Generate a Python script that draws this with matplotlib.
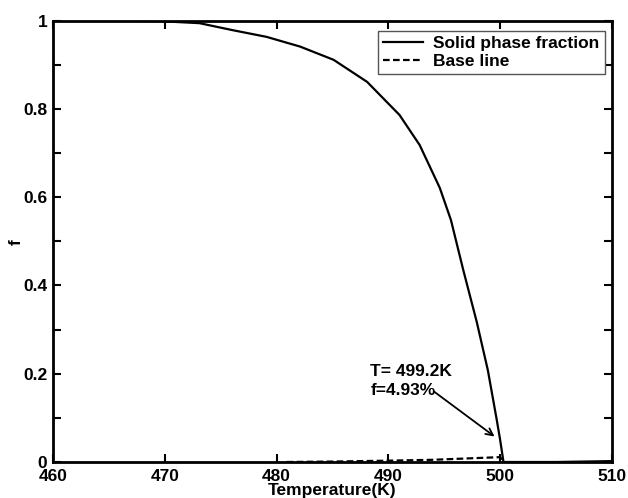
import numpy as np
import matplotlib.pyplot as plt

# solid phase fraction
temp = [460, 466, 470, 473.1, 476.1, 479.1, 482.1, 485.1, 488.1, 491.0,
        492.8, 494.6, 495.6, 496.7, 497.9, 498.9, 499.7, 500.0, 500.3,
        505, 510]
frac = [1.0, 1.0, 0.998, 0.994, 0.978, 0.963, 0.941, 0.911, 0.861, 0.786,
        0.718, 0.621, 0.548, 0.435, 0.318, 0.208, 0.095, 0.05, 0.0,
        0.0, 0.002]

# base line
base_t = [480.9, 485, 490, 494, 497, 499, 500, 500.3]
base_f = [0.0, 0.001, 0.003, 0.005, 0.008, 0.010, 0.011, 0.0]

xticks = [460, 470, 480, 490, 500, 510]
yticks = [0, 0.1, 0.2, 0.3, 0.4, 0.5, 0.6, 0.7, 0.8, 0.9, 1.0]
ylabels = ['0', '', '0.2', '', '0.4', '', '0.6', '', '0.8', '', '1']

plt.rcParams['font.family'] = ['Liberation Sans', 'DejaVu Sans']
plt.rcParams['font.weight'] = 'bold'
plt.rcParams['font.size'] = 12.5

fig = plt.figure(figsize=(6.28, 4.98), dpi=100)
ax = fig.add_axes([0.0844, 0.0723, 0.890, 0.8865])

ax.plot(temp, frac, '-', color='black', lw=1.6, label='Solid phase fraction')
ax.plot(base_t, base_f, '--', color='black', lw=1.6, label='Base line',
        dashes=(3, 1.5))

ax.set_xlim(460, 510)
ax.set_ylim(0, 1)
ax.set_xticks(xticks)
ax.set_yticks(yticks)
ax.set_yticklabels(ylabels)
ax.tick_params(direction='in', length=6, width=1.5, top=True, right=True,
               labelsize=12.5)
ax.tick_params(axis='x', pad=5)
ax.tick_params(axis='y', pad=4)
for s in ax.spines.values():
    s.set_linewidth(2)

ax.set_xlabel('Temperature(K)', fontweight='bold', labelpad=-1)
ax.set_ylabel('f', fontweight='bold')
ax.yaxis.set_label_coords(-0.052, 0.498)

ax.annotate('', xy=(499.7, 0.054), xytext=(493.9, 0.163),
            arrowprops=dict(arrowstyle='->', color='black', lw=1.3))
ax.text(488.4, 0.205, 'T= 499.2K', fontsize=12.5, fontweight='bold',
        va='center', ha='left')
ax.text(488.4, 0.163, 'f=4.93%', fontsize=12.5, fontweight='bold',
        va='center', ha='left')

leg = ax.legend(loc='upper right', bbox_to_anchor=(0.993, 0.984),
                fancybox=False, framealpha=1, edgecolor='#555555',
                borderpad=0.3, labelspacing=0.15, handlelength=2.3,
                handletextpad=0.6, borderaxespad=0.2)
leg.get_frame().set_linewidth(1.0)

fig.savefig('out.png', dpi=100)
